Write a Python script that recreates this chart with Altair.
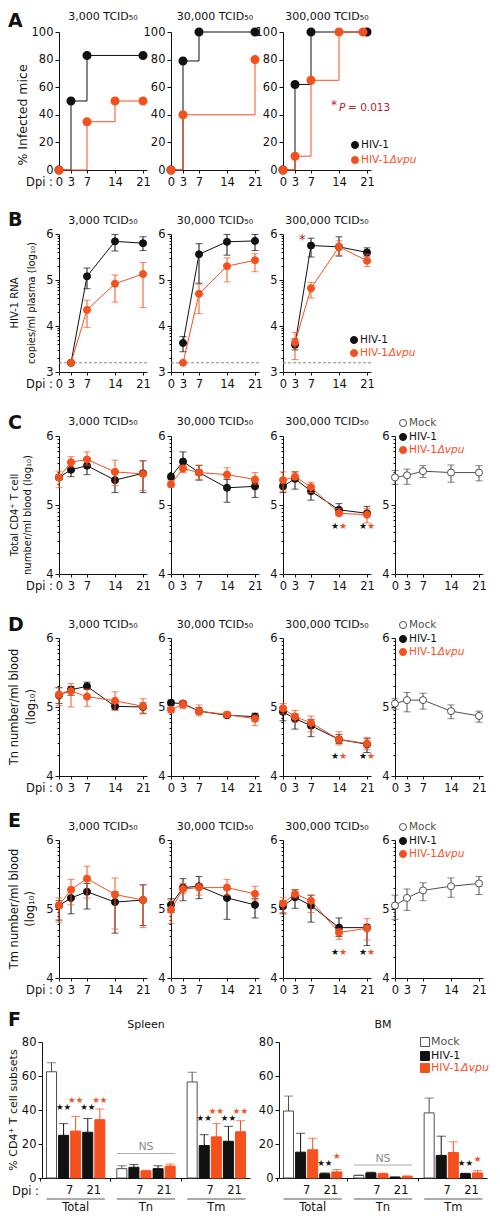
import math
import altair as alt
import pandas as pd

# ---------------- data ----------------
DAYS = [0, 3, 7, 14, 21]
DAYS_B = [3, 7, 14, 21]
DOSE_TITLES = ["3,000 TCID₅₀", "30,000 TCID₅₀", "300,000 TCID₅₀"]

# A: % infected mice (step curves)
A_3K_HIV = [0, 50, 83, 83, 83]
A_3K_HIV_PTS = [0, 3, 7, 21]
A_3K_VPU = [0, 0, 35, 50, 50]
A_3K_VPU_PTS = [0, 7, 14, 21]
A_30K_HIV = [0, 79, 100, 100, 100]
A_30K_HIV_PTS = [0, 3, 7, 21]
A_30K_VPU = [0, 40, 40, 40, 80]
A_30K_VPU_PTS = [0, 3, 21]
A_300K_HIV = [0, 62, 100, 100, 100]
A_300K_HIV_PTS = [0, 3, 7, 21]
A_300K_VPU_DAYS = [0, 3, 7, 14, 20]
A_300K_VPU = [0, 10, 65, 100, 100]
A_300K_VPU_PTS = [0, 3, 7, 14, 20]
A_P_TEXT = "= 0.013"

# B: HIV-1 RNA (log10)
B_LOD = 3.2
B_3K_HIV = [3.2, 5.08, 5.84, 5.80]
B_3K_HIV_LO = [3.2, 4.81, 5.63, 5.64]
B_3K_HIV_HI = [3.2, 5.26, 5.99, 5.94]
B_3K_VPU = [3.2, 4.35, 4.92, 5.13]
B_3K_VPU_LO = [3.2, 3.97, 4.52, 4.40]
B_3K_VPU_HI = [3.2, 4.56, 5.11, 5.38]
B_30K_HIV = [3.63, 5.56, 5.83, 5.85]
B_30K_HIV_LO = [3.44, 4.93, 5.54, 5.64]
B_30K_HIV_HI = [3.77, 5.79, 5.99, 5.99]
B_30K_VPU = [3.2, 4.70, 5.30, 5.43]
B_30K_VPU_LO = [3.2, 4.27, 4.96, 5.18]
B_30K_VPU_HI = [3.2, 4.91, 5.48, 5.57]
B_300K_HIV = [3.59, 5.75, 5.72, 5.60]
B_300K_HIV_LO = [3.48, 5.50, 5.52, 5.52]
B_300K_HIV_HI = [3.72, 5.91, 5.94, 5.70]
B_300K_VPU = [3.64, 4.82, 5.72, 5.42]
B_300K_VPU_LO = [3.27, 4.61, 5.54, 5.29]
B_300K_VPU_HI = [3.86, 4.95, 5.85, 5.56]
B_STAR_DAY = 4.8
B_STAR_Y = 5.88

# C: total CD4+ T cells (log10)
C_3K_HIV = [5.40, 5.51, 5.57, 5.36, 5.46]
C_3K_HIV_LO = [5.38, 5.41, 5.44, 5.18, 5.18]
C_3K_HIV_HI = [5.42, 5.60, 5.68, 5.49, 5.64]
C_3K_VPU = [5.40, 5.62, 5.66, 5.48, 5.45]
C_3K_VPU_LO = [5.25, 5.55, 5.58, 5.28, 5.21]
C_3K_VPU_HI = [5.49, 5.70, 5.77, 5.65, 5.64]
C_30K_HIV = [5.41, 5.63, 5.47, 5.25, 5.27]
C_30K_HIV_LO = [5.38, 5.52, 5.36, 5.04, 5.11]
C_30K_HIV_HI = [5.45, 5.77, 5.57, 5.37, 5.33]
C_30K_VPU = [5.30, 5.53, 5.47, 5.44, 5.37]
C_30K_VPU_LO = [5.26, 5.47, 5.37, 5.38, 5.30]
C_30K_VPU_HI = [5.35, 5.57, 5.58, 5.54, 5.47]
C_300K_HIV = [5.27, 5.38, 5.20, 4.93, 4.88]
C_300K_HIV_LO = [5.18, 5.23, 5.07, 4.88, 4.85]
C_300K_HIV_HI = [5.30, 5.48, 5.25, 5.02, 4.98]
C_300K_VPU = [5.36, 5.41, 5.26, 4.88, 4.86]
C_300K_VPU_LO = [5.20, 5.37, 5.18, 4.85, 4.74]
C_300K_VPU_HI = [5.48, 5.48, 5.33, 4.95, 4.95]
C_MOCK = [5.40, 5.43, 5.49, 5.47, 5.47]
C_MOCK_LO = [5.30, 5.30, 5.40, 5.33, 5.35]
C_MOCK_HI = [5.50, 5.52, 5.57, 5.58, 5.57]
C_STAR_Y = 4.69

# D: Tn (log10)
D_3K_HIV = [5.17, 5.25, 5.30, 5.01, 5.00]
D_3K_HIV_LO = [5.05, 5.17, 5.26, 4.96, 4.91]
D_3K_HIV_HI = [5.28, 5.30, 5.36, 5.05, 5.06]
D_3K_VPU = [5.18, 5.23, 5.15, 5.09, 5.01]
D_3K_VPU_LO = [5.02, 5.00, 5.01, 4.95, 4.90]
D_3K_VPU_HI = [5.28, 5.34, 5.26, 5.22, 5.12]
D_30K_HIV = [5.06, 5.05, 4.94, 4.88, 4.86]
D_30K_HIV_LO = [5.02, 5.00, 4.90, 4.86, 4.80]
D_30K_HIV_HI = [5.10, 5.08, 4.99, 4.92, 4.91]
D_30K_VPU = [4.96, 5.04, 4.94, 4.89, 4.83]
D_30K_VPU_LO = [4.92, 4.98, 4.87, 4.85, 4.73]
D_30K_VPU_HI = [4.99, 5.09, 5.03, 4.93, 4.88]
D_300K_HIV = [4.93, 4.83, 4.73, 4.53, 4.46]
D_300K_HIV_LO = [4.80, 4.68, 4.57, 4.47, 4.34]
D_300K_HIV_HI = [5.00, 4.90, 4.82, 4.60, 4.54]
D_300K_VPU = [4.98, 4.86, 4.77, 4.53, 4.47]
D_300K_VPU_LO = [4.90, 4.78, 4.64, 4.45, 4.38]
D_300K_VPU_HI = [5.05, 4.95, 4.87, 4.64, 4.56]
D_MOCK = [5.05, 5.10, 5.10, 4.94, 4.87]
D_MOCK_LO = [4.97, 4.93, 4.97, 4.83, 4.78]
D_MOCK_HI = [5.12, 5.21, 5.20, 5.03, 4.94]
D_STAR_Y = 4.29

# E: Tm (log10)
E_3K_HIV = [5.05, 5.16, 5.25, 5.10, 5.13]
E_3K_HIV_LO = [4.84, 4.93, 5.00, 4.65, 4.76]
E_3K_HIV_HI = [5.12, 5.28, 5.37, 5.25, 5.35]
E_3K_VPU = [5.05, 5.28, 5.44, 5.21, 5.13]
E_3K_VPU_LO = [4.81, 5.06, 5.16, 4.71, 4.73]
E_3K_VPU_HI = [5.16, 5.43, 5.62, 5.45, 5.35]
E_30K_HIV = [5.06, 5.31, 5.33, 5.16, 5.06]
E_30K_HIV_LO = [4.95, 5.12, 5.15, 4.85, 4.87]
E_30K_HIV_HI = [5.15, 5.44, 5.47, 5.28, 5.15]
E_30K_VPU = [4.99, 5.29, 5.31, 5.31, 5.22]
E_30K_VPU_LO = [4.79, 5.22, 5.20, 5.20, 5.13]
E_30K_VPU_HI = [5.13, 5.37, 5.37, 5.43, 5.33]
E_300K_HIV = [5.04, 5.17, 5.05, 4.73, 4.73]
E_300K_HIV_LO = [4.93, 5.01, 4.81, 4.60, 4.47]
E_300K_HIV_HI = [5.12, 5.28, 5.20, 4.87, 4.78]
E_300K_VPU = [5.08, 5.22, 5.12, 4.66, 4.72]
E_300K_VPU_LO = [4.95, 5.16, 4.95, 4.56, 4.55]
E_300K_VPU_HI = [5.17, 5.28, 5.20, 4.72, 4.86]
E_MOCK = [5.05, 5.16, 5.27, 5.33, 5.37]
E_MOCK_LO = [4.85, 4.98, 5.12, 5.17, 5.21]
E_MOCK_HI = [5.20, 5.29, 5.38, 5.45, 5.47]
E_STAR_Y = 4.37
STAR_DAYS = [14, 21]

# F: % CD4+ T cell subsets (bars)
GROUPS = ["Total", "Tn", "Tm"]
BARS = ["Mock", "HIV-1 d7", "HIV-1Δvpu d7", "HIV-1 d21", "HIV-1Δvpu d21"]
DPI_BARS = ["HIV-1 d7", "HIV-1 d21"]
DPI_TEXT = ["7", "21"]
SPLEEN_TOTAL = [62.5, 25.1, 27.6, 26.9, 34.3]
SPLEEN_TOTAL_TOP = [67.8, 32.0, 36.2, 35.0, 40.6]
SPLEEN_TN = [5.5, 6.3, 4.2, 5.5, 7.0]
SPLEEN_TN_TOP = [7.2, 7.9, 4.6, 7.2, 8.2]
SPLEEN_TM = [56.5, 19.1, 24.2, 21.6, 27.2]
SPLEEN_TM_TOP = [62.2, 25.5, 32.0, 30.4, 33.7]
BM_TOTAL = [39.4, 15.2, 16.6, 2.5, 3.6]
BM_TOTAL_TOP = [48.2, 26.3, 23.4, 3.0, 5.0]
BM_TN = [1.5, 3.0, 2.5, 0.5, 1.0]
BM_TN_TOP = [1.7, 3.4, 2.9, 0.6, 1.2]
BM_TM = [38.3, 13.3, 15.0, 2.5, 3.0]
BM_TM_TOP = [47.0, 24.6, 21.3, 2.8, 4.4]
SPLEEN_STAR_GROUP = ["Total"] * 4 + ["Tm"] * 4
SPLEEN_STAR_BAR = ["HIV-1 d7", "HIV-1Δvpu d7", "HIV-1 d21", "HIV-1Δvpu d21"] * 2
SPLEEN_STAR_Y = [42, 45.7, 42, 45.7, 35.5, 39.5, 35.5, 39.5]
SPLEEN_STAR_TEXT = ["★★"] * 8
BM_STAR_GROUP = ["Total", "Total", "Tm", "Tm"]
BM_STAR_BAR = ["HIV-1 d21", "HIV-1Δvpu d21"] * 2
BM_STAR_Y = [8.8, 12.8, 8.8, 11.0]
BM_STAR_TEXT = ["★★", "★", "★★", "★"]
SPLEEN_NS = (14.4, 18.0)
BM_NS = (7.6, 10.9)

LEGEND_NAMES = ["Mock", "HIV-1", "HIV-1"]
LEGEND_SUFFIX = ["", "", "Δvpu"]
YT_A = "% Infected mice"
YT_B = ["HIV-1 RNA", "copies/ml plasma (log₁₀)"]
YT_C = ["Total CD4⁺ T cell", "number/ml blood (log₁₀)"]
YT_D = ["Tn number/ml blood", "(log₁₀)"]
YT_E = ["Tm number/ml blood", "(log₁₀)"]
YT_F = "% CD4⁺ T cell subsets"

# ---------------- style ----------------
FONT = "DejaVu Sans"
BLACK = "#111111"
RED = "#f4511e"
GREY = "#505050"
NSGREY = "#8a8a8a"
DARKRED = "#b5232b"
LEG_FILL = ["white", BLACK, RED]
LEG_STROKE = [GREY, BLACK, RED]
LEG_TEXT = [GREY, BLACK, RED]
BAR_FILL = ["white", BLACK, RED, BLACK, RED]
BAR_LINE = [GREY, BLACK, RED, BLACK, RED]
HIV1_EM = 2.728  # width of "HIV-1" in em (DejaVu Sans)

W, H, GAP, ROWGAP = 88, 138, 24, 64
XMAX = 22
FH = 136
F_RANGE = 208
SPLEEN_SHIFT = 17   # spleen axis sits left of its grid cell
BM_SHIFT = 4        # BM axis sits left of its grid cell
PAD_IN, PAD_OUT, OFF_PAD = 0.17, 0.064, 0.17
STEP_G = F_RANGE / (len(GROUPS) - PAD_IN + 2 * PAD_OUT)
BANDW = STEP_G * (1 - PAD_IN)
STEP_O = BANDW / (len(BARS) - OFF_PAD)
TICK_FS = 11.5
TITLE_FS = 11
LETTER_FS = 19
DPI_Y = H + 13


def txt(s, x, y, size=11.0, color=BLACK, align="center", baseline="middle",
        angle=0, style="normal", weight="normal"):
    kw = dict(align=align, baseline=baseline, fontSize=size, color=color,
              font=FONT, fontStyle=style, fontWeight=weight)
    if angle:
        kw["angle"] = angle
    return alt.Chart(pd.DataFrame({"t": [s]})).mark_text(**kw).encode(
        x=alt.value(x), y=alt.value(y), text="t:N")


def legend(idx, x, ys, shape="circle", size=50, fs=10.5, dxt=6):
    out = []
    for i, yy in zip(idx, ys):
        d = pd.DataFrame({"t": [LEGEND_NAMES[i]]})
        out.append(alt.Chart(d).mark_point(
            shape=shape, size=size, filled=True, fill=LEG_FILL[i],
            stroke=LEG_STROKE[i], strokeWidth=1, opacity=1
        ).encode(x=alt.value(x), y=alt.value(yy)))
        out.append(txt(LEGEND_NAMES[i], x + dxt, yy, fs, LEG_TEXT[i], align="left"))
        if LEGEND_SUFFIX[i]:
            out.append(txt(LEGEND_SUFFIX[i], x + dxt + HIV1_EM * fs, yy, fs,
                           LEG_TEXT[i], align="left", style="italic"))
    return out


XS = alt.Scale(domain=[0, XMAX], nice=False, zero=False)
XAX = alt.Axis(values=DAYS, title=None, tickSize=3, labelPadding=3, labelFlush=False,
               labelOverlap=False, format="d", grid=False)


def log_ticks(lo, hi):
    vals = list(range(lo, hi + 1))
    vals += [k + math.log10(m) for k in range(lo, hi) for m in range(2, 10)]
    return vals


def yaxis(values, minor, offset=0):
    kw = dict(values=values, title=None, labelPadding=2, labelFlush=False,
              labelOverlap=False, grid=False)
    if minor:
        kw["tickSize"] = {"condition": {"test": "datum.value % 1 === 0", "value": 4}, "value": 2}
        kw["labelExpr"] = "datum.value % 1 === 0 ? format(datum.value, 'd') : ''"
    else:
        kw["tickSize"] = 4
        kw["format"] = "d"
    if offset:
        kw["offset"] = offset
    return alt.Axis(**kw)


def line_layers(ydom, yvals, series):
    X = alt.X("day:Q", scale=XS, axis=XAX)
    YS = alt.Scale(domain=ydom, nice=False, zero=False)
    YA = yaxis(yvals, True)

    def Y(f):
        return alt.Y(f"{f}:Q", scale=YS, axis=YA)

    layers = []
    for days, m, lo, hi, col, fill in series:
        b = alt.Chart(pd.DataFrame({"day": days, "m": m, "lo": lo, "hi": hi}))
        layers += [
            b.mark_rule(color=col, strokeWidth=1).encode(x=X, y=Y("lo"), y2="hi:Q"),
            b.mark_tick(orient="horizontal", size=7, thickness=1, color=col).encode(x=X, y=Y("lo")),
            b.mark_tick(orient="horizontal", size=7, thickness=1, color=col).encode(x=X, y=Y("hi")),
            b.mark_line(color=col, strokeWidth=1).encode(x=X, y=Y("m")),
            b.mark_point(shape="circle", size=50, filled=True, fill=fill, stroke=col,
                         strokeWidth=1, opacity=1).encode(x=X, y=Y("m")),
        ]
    return layers, X, Y


def stars(X, Y, ystar):
    d = pd.DataFrame({"day": STAR_DAYS, "y": [ystar] * len(STAR_DAYS), "s": ["★"] * len(STAR_DAYS)})
    return [
        alt.Chart(d).mark_text(fontSize=9, dx=-4, color=BLACK, font=FONT).encode(x=X, y=Y("y"), text="s:N"),
        alt.Chart(d).mark_text(fontSize=9, dx=4, color=RED, font=FONT).encode(x=X, y=Y("y"), text="s:N"),
    ]


def finish(layers, h=H):
    return alt.layer(*layers).properties(width=W, height=h)


def filler(h=H):
    return alt.Chart(pd.DataFrame({"a": [0]})).mark_point(opacity=0).encode(
        x=alt.value(0), y=alt.value(0)).properties(width=W, height=h)


# ---------------- row A ----------------
A_SETS = [
    (A_3K_HIV, A_3K_HIV_PTS, DAYS, A_3K_VPU, A_3K_VPU_PTS),
    (A_30K_HIV, A_30K_HIV_PTS, DAYS, A_30K_VPU, A_30K_VPU_PTS),
    (A_300K_HIV, A_300K_HIV_PTS, A_300K_VPU_DAYS, A_300K_VPU, A_300K_VPU_PTS),
]
cells = []
for i, (hiv, hpts, vdays, vpu, vpts) in enumerate(A_SETS):
    X = alt.X("day:Q", scale=XS, axis=XAX)
    YS = alt.Scale(domain=[0, 100], nice=False, zero=False)
    YA = yaxis([0, 20, 40, 60, 80, 100], False)
    layers = []
    for days, vals, pts, col in ((DAYS, hiv, hpts, BLACK), (vdays, vpu, vpts, RED)):
        df = pd.DataFrame({"day": days, "v": vals})
        layers.append(alt.Chart(df).mark_line(interpolate="step-after", color=col, strokeWidth=1)
                      .encode(x=X, y=alt.Y("v:Q", scale=YS, axis=YA)))
        layers.append(alt.Chart(df[df["day"].isin(pts)]).mark_point(
            shape="circle", size=50, filled=True, fill=col, stroke=col, opacity=1)
            .encode(x=X, y=alt.Y("v:Q", scale=YS, axis=YA)))
    layers.append(txt(DOSE_TITLES[i], W / 2, -15, TITLE_FS))
    if i == 0:
        layers += [
            txt("A", -51, -20, LETTER_FS, align="left", baseline="top", weight="bold"),
            txt(YT_A, -36, H / 2 + 14, 12.5, angle=270),
            txt("Dpi :", -6, DPI_Y, TICK_FS, align="right"),
        ]
    if i == 2:
        layers += legend([1, 2], 72, [113, 128])
        layers += [
            txt("*", 51, 73, 12, DARKRED),
            txt("P", 56, 76, 10.5, DARKRED, align="left", style="italic"),
            txt(A_P_TEXT, 65, 76, 10.5, DARKRED, align="left"),
        ]
    cells.append(finish(layers))
cells.append(filler())

# ---------------- row B ----------------
B_SETS = [
    ((B_3K_HIV, B_3K_HIV_LO, B_3K_HIV_HI), (B_3K_VPU, B_3K_VPU_LO, B_3K_VPU_HI)),
    ((B_30K_HIV, B_30K_HIV_LO, B_30K_HIV_HI), (B_30K_VPU, B_30K_VPU_LO, B_30K_VPU_HI)),
    ((B_300K_HIV, B_300K_HIV_LO, B_300K_HIV_HI), (B_300K_VPU, B_300K_VPU_LO, B_300K_VPU_HI)),
]
for i, (hv, vp) in enumerate(B_SETS):
    layers, X, Y = line_layers([3, 6], log_ticks(3, 6), [
        (DAYS_B, *hv, BLACK, BLACK), (DAYS_B, *vp, RED, RED)])
    lod = alt.Chart(pd.DataFrame({"y": [B_LOD]})).mark_rule(
        strokeDash=[3, 2], color=NSGREY, strokeWidth=1).encode(
        y=Y("y"), x=alt.value(0), x2=alt.value(W))
    layers = [lod] + layers
    layers.append(txt(DOSE_TITLES[i], W / 2, -13, TITLE_FS))
    if i == 0:
        layers += [
            txt("B", -51, -23, LETTER_FS, align="left", baseline="top", weight="bold"),
            txt(YT_B[0], -44, H / 2, 10, angle=270),
            txt(YT_B[1], -27, H / 2, 10, angle=270),
            txt("Dpi :", -6, DPI_Y, TICK_FS, align="right"),
        ]
    if i == 2:
        layers.append(alt.Chart(pd.DataFrame({"day": [B_STAR_DAY], "y": [B_STAR_Y], "s": ["*"]}))
                      .mark_text(fontSize=14, color=DARKRED, font=FONT)
                      .encode(x=X, y=Y("y"), text="s:N"))
        layers += legend([1, 2], 71, [106, 119])
    cells.append(finish(layers))
cells.append(filler())

# ---------------- rows C, D, E ----------------
ROWS_CDE = [
    ("C", -22, -14, YT_C, (-44, -31), H / 2 + 10, 10, C_STAR_Y,
     [((C_3K_HIV, C_3K_HIV_LO, C_3K_HIV_HI), (C_3K_VPU, C_3K_VPU_LO, C_3K_VPU_HI)),
      ((C_30K_HIV, C_30K_HIV_LO, C_30K_HIV_HI), (C_30K_VPU, C_30K_VPU_LO, C_30K_VPU_HI)),
      ((C_300K_HIV, C_300K_HIV_LO, C_300K_HIV_HI), (C_300K_VPU, C_300K_VPU_LO, C_300K_VPU_HI))],
     (C_MOCK, C_MOCK_LO, C_MOCK_HI)),
    ("D", -22, -13, YT_D, (-44, -27), H / 2, 11.5, D_STAR_Y,
     [((D_3K_HIV, D_3K_HIV_LO, D_3K_HIV_HI), (D_3K_VPU, D_3K_VPU_LO, D_3K_VPU_HI)),
      ((D_30K_HIV, D_30K_HIV_LO, D_30K_HIV_HI), (D_30K_VPU, D_30K_VPU_LO, D_30K_VPU_HI)),
      ((D_300K_HIV, D_300K_HIV_LO, D_300K_HIV_HI), (D_300K_VPU, D_300K_VPU_LO, D_300K_VPU_HI))],
     (D_MOCK, D_MOCK_LO, D_MOCK_HI)),
    ("E", -28, -13, YT_E, (-44, -28), H / 2, 11.5, E_STAR_Y,
     [((E_3K_HIV, E_3K_HIV_LO, E_3K_HIV_HI), (E_3K_VPU, E_3K_VPU_LO, E_3K_VPU_HI)),
      ((E_30K_HIV, E_30K_HIV_LO, E_30K_HIV_HI), (E_30K_VPU, E_30K_VPU_LO, E_30K_VPU_HI)),
      ((E_300K_HIV, E_300K_HIV_LO, E_300K_HIV_HI), (E_300K_VPU, E_300K_VPU_LO, E_300K_VPU_HI))],
     (E_MOCK, E_MOCK_LO, E_MOCK_HI)),
]
for letter, ly, ty, ytitle, ytx, yty, ytfs, stary, sets, mock in ROWS_CDE:
    for i, (hv, vp) in enumerate(sets):
        layers, X, Y = line_layers([4, 6], log_ticks(4, 6), [
            (DAYS, *hv, BLACK, BLACK), (DAYS, *vp, RED, RED)])
        layers.append(txt(DOSE_TITLES[i], W / 2, ty, TITLE_FS))
        if i == 0:
            layers += [
                txt(letter, -51, ly, LETTER_FS, align="left", baseline="top", weight="bold"),
                txt(ytitle[0], ytx[0], yty, ytfs, angle=270),
                txt(ytitle[1], ytx[1], yty, ytfs, angle=270),
                txt("Dpi :", -6, DPI_Y, TICK_FS, align="right"),
            ]
        if i == 2:
            layers += stars(X, Y, stary)
        cells.append(finish(layers))
    layers, X, Y = line_layers([4, 6], log_ticks(4, 6), [(DAYS, *mock, GREY, "white")])
    layers += legend([0, 1, 2], 8, [-13, 1, 14])
    cells.append(finish(layers))


# ---------------- row F ----------------
def bar_panel(vals, tops, star_g, star_b, star_y, star_t, ns, shift):
    rows = []
    for g, v, t in zip(GROUPS, vals, tops):
        for b, vv, tt in zip(BARS, v, t):
            rows.append({"group": g, "bar": b, "v": vv, "top": tt})
    df = pd.DataFrame(rows)
    XG = alt.X("group:N",
               scale=alt.Scale(domain=GROUPS, paddingInner=PAD_IN, paddingOuter=PAD_OUT,
                               range=[-shift, F_RANGE - shift]),
               axis=alt.Axis(title=None, labels=False, ticks=True, tickSize=3,
                             bandPosition=-0.1, grid=False))
    XO = alt.XOffset("bar:N", scale=alt.Scale(domain=BARS, paddingInner=OFF_PAD, paddingOuter=0))
    YS = alt.Scale(domain=[0, 80], nice=False, zero=True)
    YA = yaxis([0, 20, 40, 60, 80], False, shift)

    def Y(f):
        return alt.Y(f"{f}:Q", scale=YS, axis=YA)

    FILL = alt.Fill("bar:N", scale=alt.Scale(domain=BARS, range=BAR_FILL), legend=None)
    STROKE = alt.Stroke("bar:N", scale=alt.Scale(domain=BARS, range=BAR_LINE), legend=None)
    COL = alt.Color("bar:N", scale=alt.Scale(domain=BARS, range=BAR_LINE), legend=None)
    base = alt.Chart(df)
    layers = [
        base.mark_rule(strokeWidth=1).encode(x=XG, xOffset=XO, y=Y("v"), y2="top:Q", color=COL),
        base.mark_tick(orient="horizontal", size=9, thickness=1).encode(
            x=XG, xOffset=XO, y=Y("top"), color=COL),
        base.mark_bar(strokeWidth=1).encode(x=XG, xOffset=XO, y=Y("v"), fill=FILL, stroke=STROKE),
    ]
    sd = pd.DataFrame({"group": star_g, "bar": star_b, "y": star_y, "s": star_t})
    layers.append(alt.Chart(sd).mark_text(fontSize=8.5, font=FONT, baseline="middle").encode(
        x=XG, xOffset=XO, y=Y("y"), text="s:N", color=COL))
    nsd = pd.DataFrame({"group": ["Tn"], "line": [ns[0]], "ty": [ns[1]], "s": ["NS"]})
    layers.append(alt.Chart(nsd).mark_tick(orient="horizontal", size=BANDW, thickness=1,
                                           color=NSGREY).encode(x=XG, y=Y("line")))
    layers.append(alt.Chart(nsd).mark_text(fontSize=11, color=NSGREY, font=FONT).encode(
        x=XG, y=Y("ty"), text="s:N"))
    gd = pd.DataFrame({"group": GROUPS})
    layers.append(alt.Chart(gd).mark_tick(orient="horizontal", size=BANDW, thickness=1,
                                          color=BLACK).encode(x=XG, y=alt.value(FH + 21)))
    layers.append(alt.Chart(gd).mark_text(fontSize=TICK_FS, font=FONT, color=BLACK).encode(
        x=XG, y=alt.value(FH + 30), text="group:N"))
    dd = pd.DataFrame({"group": [g for g in GROUPS for _ in DPI_BARS],
                       "bar": DPI_BARS * len(GROUPS),
                       "s": DPI_TEXT * len(GROUPS)})
    layers.append(alt.Chart(dd).mark_text(fontSize=TICK_FS, font=FONT, color=BLACK,
                                          dx=STEP_O / 2).encode(
        x=XG, xOffset=XO, y=alt.value(FH + 13), text="s:N"))
    return layers


spleen_layers = bar_panel(
    [SPLEEN_TOTAL, SPLEEN_TN, SPLEEN_TM], [SPLEEN_TOTAL_TOP, SPLEEN_TN_TOP, SPLEEN_TM_TOP],
    SPLEEN_STAR_GROUP, SPLEEN_STAR_BAR, SPLEEN_STAR_Y, SPLEEN_STAR_TEXT, SPLEEN_NS, SPLEEN_SHIFT)
spleen_layers += [
    txt("F", -51, -31, LETTER_FS, align="left", baseline="top", weight="bold"),
    txt("Spleen", F_RANGE / 2 - SPLEEN_SHIFT, -17, TITLE_FS),
    txt(YT_F, -45, FH / 2, 11, angle=270),
    txt("Dpi :", -SPLEEN_SHIFT - 3, FH + 14, TICK_FS, align="right"),
]
cells.append(finish(spleen_layers, FH))
cells.append(filler(FH))

bm_layers = bar_panel(
    [BM_TOTAL, BM_TN, BM_TM], [BM_TOTAL_TOP, BM_TN_TOP, BM_TM_TOP],
    BM_STAR_GROUP, BM_STAR_BAR, BM_STAR_Y, BM_STAR_TEXT, BM_NS, BM_SHIFT)
bm_layers += [txt("BM", F_RANGE / 2 - BM_SHIFT, -17, TITLE_FS)]
bm_layers += legend([0, 1, 2], 146 - BM_SHIFT, [0, 14, 26], shape="square", size=80, fs=11, dxt=6)
cells.append(finish(bm_layers, FH))

chart = alt.concat(
    *cells, columns=4, spacing={"row": ROWGAP, "column": GAP}, bounds="flush",
    align={"row": "each", "column": "all"},
    padding={"left": 0, "top": 3, "right": 0, "bottom": 0}
).configure_view(stroke=None).configure_axis(
    labelFont=FONT, labelFontSize=TICK_FS, labelColor=BLACK, domainColor=BLACK,
    tickColor=BLACK, domainWidth=1, tickWidth=1, grid=False
)

chart.save("out.html", embed_options={"renderer": "svg", "actions": False})
